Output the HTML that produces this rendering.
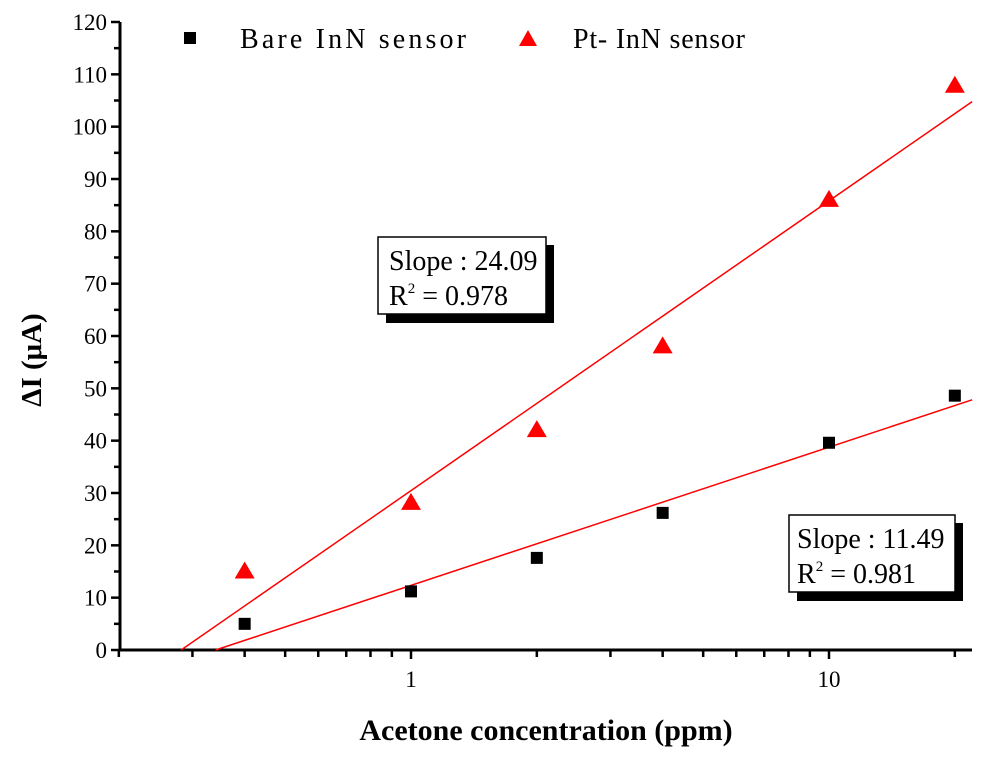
<!DOCTYPE html>
<html><head><meta charset="utf-8"><style>
body{margin:0;background:#fff}
svg text{font-family:"Liberation Serif",serif}
</style></head><body>
<svg id="chart" width="1000" height="756" viewBox="0 0 1000 756" xmlns="http://www.w3.org/2000/svg">
<g id="axes"></g>
<g id="fits"></g>
<g id="marks"></g>
<g>
 <rect x="184" y="32" width="12" height="12" fill="#000"/>
 <text x="240" y="48" font-size="28" textLength="226" lengthAdjust="spacing">Bare InN sensor</text>
 <polygon points="528,30 519,46 537,46" fill="#f00"/>
 <text x="573" y="48" font-size="28" textLength="172" lengthAdjust="spacing">Pt- InN sensor</text>
</g>
<g>
 <rect x="386" y="245" width="168" height="78" fill="#000"/>
 <rect x="378" y="237" width="168" height="77" fill="#fff" stroke="#000" stroke-width="1.5"/>
 <text x="389" y="270" font-size="28">Slope : 24.09</text>
 <text x="389" y="305" font-size="28">R<tspan dy="-12" font-size="15">2</tspan><tspan dy="12"> = 0.978</tspan></text>
</g>
<g>
 <rect x="797" y="523" width="166" height="78" fill="#000"/>
 <rect x="789" y="515" width="166" height="77" fill="#fff" stroke="#000" stroke-width="1.5"/>
 <text x="797" y="548" font-size="28">Slope : 11.49</text>
 <text x="797" y="583" font-size="28">R<tspan dy="-12" font-size="15">2</tspan><tspan dy="12"> = 0.981</tspan></text>
</g>
<text x="546" y="740" font-size="30" font-weight="bold" text-anchor="middle">Acetone concentration (ppm)</text>
<text transform="translate(41,360) rotate(-90)" font-size="29" font-weight="bold" text-anchor="middle">ΔI (μA)</text>
</svg>
<script>
const concentrations=[0.4,1,2,4,10,20];
const bareValues=[5,11.2,17.6,26.2,39.6,48.6];
const ptValues=[15.2,28.3,42.2,58.2,86.2,108];
const yTicks=[0,10,20,30,40,50,60,70,80,90,100,110,120];
const xMajorTicks=[1,10];
const xMin=0.2,xMax=22;
const NS='http://www.w3.org/2000/svg';
const X0=120,X1=972,Y0=650,Y1=22;
function xs(v){return 411+418*Math.log10(v);}
function ys(v){return Y0-(v-0)*(Y0-Y1)/120;}
function mk(tag,attrs,parent){const e=document.createElementNS(NS,tag);for(const k in attrs)e.setAttribute(k,attrs[k]);parent.appendChild(e);return e;}
const axes=document.getElementById('axes');
let l=mk('line',{x1:X0,y1:Y0,x2:X1,y2:Y0,stroke:'#000','stroke-width':3},axes);


l=mk('line',{x1:X0,y1:Y0+1.5,x2:X0,y2:Y1,stroke:'#000','stroke-width':3},axes);


yTicks.forEach((t,i)=>{
  const y=ys(t);
  const tk=mk('line',{x1:X0-9,y1:y,x2:X0,y2:y,stroke:'#000','stroke-width':2.5},axes);
  
  
  const tx=mk('text',{x:X0-13,y:y+8,'font-size':23,'text-anchor':'end'},axes);
  tx.textContent=t;
  
  
  if(i<yTicks.length-1){
    const ym=ys(t+5);
    const m=mk('line',{x1:X0-6,y1:ym,x2:X0,y2:ym,stroke:'#000','stroke-width':2.5},axes);
    
    
  }
});
for(let d=0.1;d<=10;d*=10){
  for(let k=1;k<=9;k++){
    const v=d*k;
    if(v<xMin-1e-9||v>xMax)continue;
    const major=xMajorTicks.some(m=>Math.abs(m-v)<1e-9);
    const x=xs(v);
    const tk=mk('line',{x1:x,y1:Y0,x2:x,y2:Y0+(major?9:7),stroke:'#000','stroke-width':2.5},axes);
    
    
    if(major){
      const tx=mk('text',{x:x,y:Y0+37,'font-size':23,'text-anchor':'middle'},axes);
      tx.textContent=String(Math.round(v));
      
      
    }
  }
}
function fit(xv,yv){
  const lx=xv.map(Math.log),n=lx.length;
  const mx=lx.reduce((a,b)=>a+b)/n,my=yv.reduce((a,b)=>a+b)/n;
  let sxy=0,sxx=0;for(let i=0;i<n;i++){sxy+=(lx[i]-mx)*(yv[i]-my);sxx+=(lx[i]-mx)**2;}
  const b=sxy/sxx;return {b:b,a:my-b*mx};
}
const fits=document.getElementById('fits');
[[bareValues,'bare-fit-line'],[ptValues,'pt-fit-line']].forEach(([vals,name])=>{
  const f=fit(concentrations,vals);
  const xStart=Math.exp(-f.a/f.b);
  const yEnd=f.a+f.b*Math.log(xMax);
  const ln=mk('line',{x1:xs(xStart),y1:ys(0),x2:xs(xMax),y2:ys(yEnd),stroke:'#f00','stroke-width':1.5},fits);
  
  
});
const marks=document.getElementById('marks');
concentrations.forEach((c,i)=>{
  const x=xs(c),y=ys(bareValues[i]);
  const r=mk('rect',{x:x-6,y:y-6,width:12,height:12,fill:'#000'},marks);
  
  
  const py=ys(ptValues[i]);
  const p=mk('polygon',{points:`${x},${py-9} ${x-10},${py+8} ${x+10},${py+8}`,fill:'#f00'},marks);
  
  
});
</script>
</body></html>
